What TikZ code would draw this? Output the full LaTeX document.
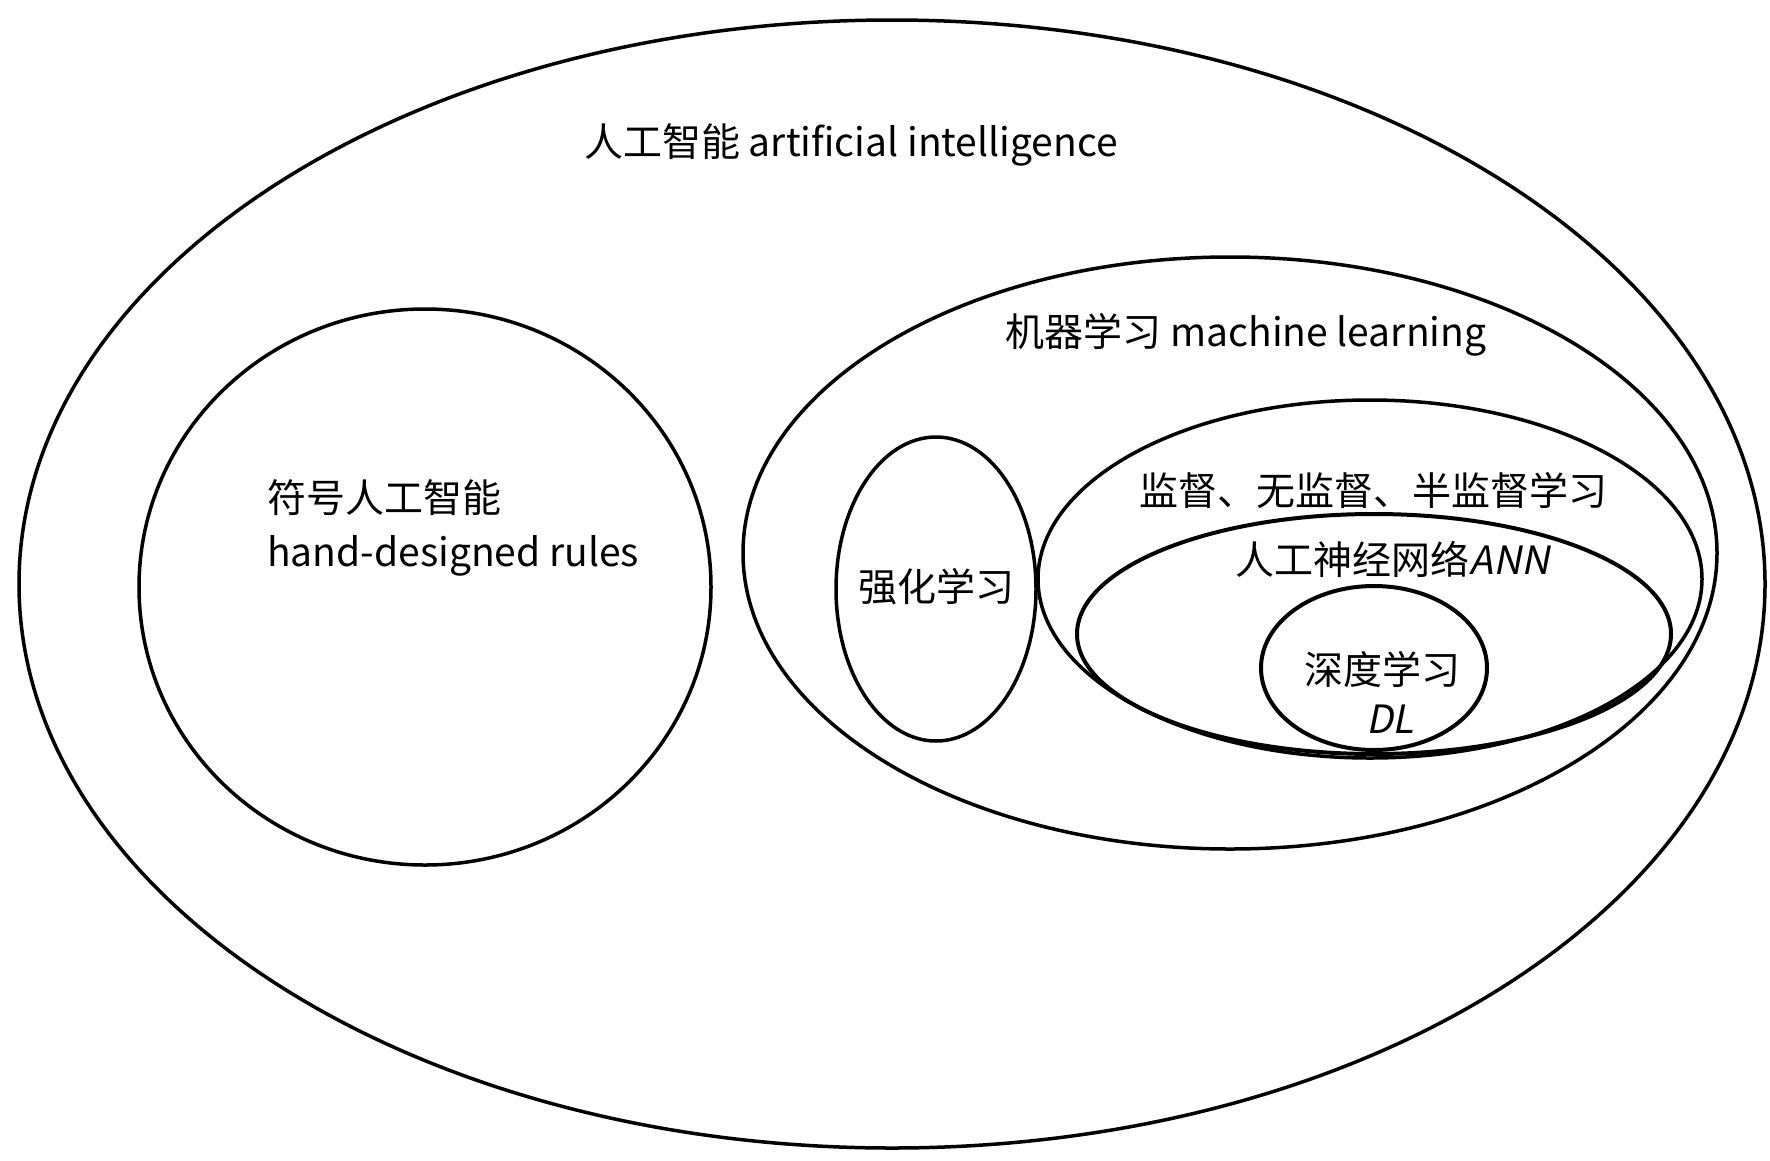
\documentclass[tikz,border=0pt]{standalone}
\usepackage{fontspec}
\usepackage{tikz}
\newfontfamily\cjk{Noto Sans CJK SC}
\newfontfamily\cjkslant[FakeSlant=0.2]{Noto Sans CJK SC}
\tikzset{lbl/.style={font=\cjk\fontsize{39}{54}\selectfont, inner sep=0pt}}

\begin{document}
\begin{tikzpicture}[x=1pt,y=-1pt]
\useasboundingbox (0,0) rectangle (1770,1160);
\draw [line width=3.5pt] (892,584) ellipse [x radius=873, y radius=564];
\draw [line width=3.5pt] (425,587) ellipse [x radius=286, y radius=278];
\draw [line width=3.5pt] (1230,553) ellipse [x radius=487, y radius=296];
\draw [line width=3.5pt] (936,589) ellipse [x radius=100, y radius=152];
\draw [line width=3.5pt] (1370,579) ellipse [x radius=332, y radius=179];
\draw [line width=4pt] (1374,634) ellipse [x radius=297, y radius=120];
\draw [line width=4pt] (1374,668) ellipse [x radius=113, y radius=82];
\node [lbl] (ai) at (851,145) {人工智能 artificial intelligence};
\node [lbl] (ml) at (1246,335) {机器学习 machine learning};
\node [lbl, anchor=west, align=left] (sym) at (267,528) {符号人工智能\\hand-designed rules};
\node [lbl] (rl) at (936,587) {强化学习};
\node [lbl] (sup) at (1373,490) {监督、无监督、半监督学习};
\node [lbl] (ann) at (1393,559) {人工神经网络{\cjkslant ANN}};
\node [lbl] (dl) at (1382,669) {深度学习};
\node [lbl] (dlen) at (1390,719) {\cjkslant DL};
\end{tikzpicture}
\end{document}
